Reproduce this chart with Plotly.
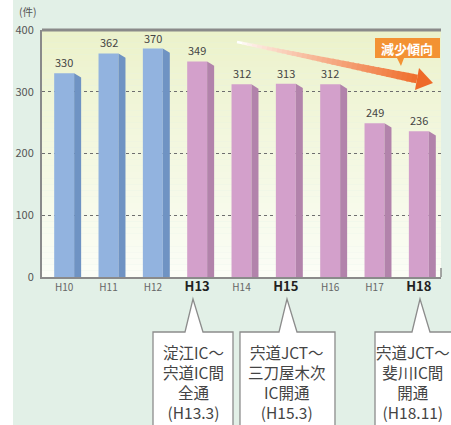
import plotly.graph_objects as go

# data
years = ["H10", "H11", "H12", "H13", "H14", "H15", "H16", "H17", "H18"]
counts = [330, 362, 370, 349, 312, 313, 312, 249, 236]
bold_years = ["H13", "H15", "H18"]
notes = {
    "H13": ["淀江IC～", "宍道IC間", "全通", "(H13.3)"],
    "H15": ["宍道JCT～", "三刀屋木次", "IC開通", "(H15.3)"],
    "H18": ["宍道JCT～", "斐川IC間", "開通", "(H18.11)"],
}

W, H = 451, 425
L, R, T, B = 42, 10, 30, 148
PW, PH = W - L - R, H - T - B
FONT = "Noto Sans CJK JP, Noto Sans, sans-serif"


def px(x, y):
    """pixel position -> paper coords"""
    return (x - L) / PW, (H - B - y) / PH


def path(points):
    s = ""
    for k, (x, y) in enumerate(points):
        a, b = px(x, y)
        s += ("M" if k == 0 else "L") + f"{a:.4f},{b:.4f} "
    return s + "Z"


def mix(c1, c2, t):
    return "#" + "".join(
        f"{round(int(c1[i:i + 2], 16) * (1 - t) + int(c2[i:i + 2], 16) * t):02x}"
        for i in (1, 3, 5))


idx = list(range(len(years)))
front = ["#92b3df" if i < 3 else "#d3a0cb" for i in idx]
side = ["#6f93c3" if i < 3 else "#b283ab" for i in idx]
bw = 0.45
depth = 7 / (PW / len(years))

fig = go.Figure()
fig.add_trace(go.Bar(x=idx, y=counts, width=bw, marker=dict(color=front, line_width=0),
                     hoverinfo="skip"))
for i, v in zip(idx, counts):
    x0 = i + bw / 2
    fig.add_trace(go.Scatter(
        x=[x0, x0 + depth, x0 + depth, x0, x0],
        y=[v, v - 7, 0, 0, v],
        fill="toself", fillcolor=side[i], mode="none", hoverinfo="skip"))

shapes = []
# plot-area gradient
n = 40
for k in range(n):
    shapes.append(dict(type="rect", xref="paper", yref="paper", x0=0, x1=1,
                       y0=k / n, y1=(k + 1) / n, layer="below", line_width=0,
                       fillcolor=mix("#fbfdf6", "#ecf2cb", k / (n - 1))))
# white strip at the far left
a0, _ = px(0, 0)
a1, _ = px(13, 0)
shapes.append(dict(type="rect", xref="paper", yref="paper", x0=a0, x1=a1, y0=-1, y1=2,
                   fillcolor="white", line_width=0, layer="below"))
# top border and right end tick
shapes.append(dict(type="line", xref="paper", yref="paper", x0=0, x1=1, y0=1, y1=1,
                   line=dict(color="#8a8a8a", width=3)))
shapes.append(dict(type="line", xref="paper", yref="paper", x0=1, x1=1, y0=0, y1=px(0, 268)[1],
                   line=dict(color="#8a8a8a", width=1.5)))

# gradient arrow
sx, sy, hx, hy, tx, ty = 237, 42, 417, 79, 433, 83
m = 36
for k in range(m):
    t0, t1 = k / m, (k + 1.3) / m
    t1 = min(t1, 1)
    x0, y0 = px(sx + (hx - sx) * t0, sy + (hy - sy) * t0)
    x1, y1 = px(sx + (hx - sx) * t1, sy + (hy - sy) * t1)
    shapes.append(dict(type="line", xref="paper", yref="paper", x0=x0, y0=y0, x1=x1, y1=y1,
                       line=dict(color=mix("#ffffff", "#ef6d2b", (k / m) ** 0.8),
                                 width=2.5 + 6.5 * k / m)))
shapes.append(dict(type="path", xref="paper", yref="paper", line_width=0, fillcolor="#ee6a28",
                   path=path([(hx + 2, hy - 11), (tx, ty), (hx - 2, hy + 11)])))

# 減少傾向 label box
shapes.append(dict(type="path", xref="paper", yref="paper", line_width=0, fillcolor="#f39233",
                   path=path([(375, 38), (440, 38), (440, 58), (404, 58), (401, 66),
                              (397, 58), (375, 58)])))

# callout boxes under the axis
boxes = {"H13": (153, 233, 193), "H15": (240, 335, 287), "H18": (375, 458, 420)}
for key, (bl, br, ax) in boxes.items():
    shapes.append(dict(type="path", xref="paper", yref="paper", fillcolor="white",
                       line=dict(color="#8c8c8c", width=1.3),
                       path=path([(bl, 440), (bl, 332), (ax - 8, 332), (ax, 299),
                                  (ax + 10, 332), (br, 332), (br, 440)])))

annotations = []
for i, v in zip(idx, counts):
    annotations.append(dict(x=i, y=v, text=str(v), showarrow=False, yanchor="bottom",
                            yshift=1, font=dict(size=11, color="#444", family=FONT)))


def note(x, y, text, **font):
    a, b = px(x, y)
    annotations.append(dict(x=a, y=b, xref="paper", yref="paper", text=text,
                            xanchor="center", yanchor="middle", showarrow=False,
                            align="center", font=dict(family=FONT, **font)))


note(28, 12, "(件)", size=10.5, color="#555")
note(407, 48, "<b>減少傾向</b>", size=13, color="white")
centers = {"H13": 193, "H15": 287, "H18": 413}
for key, lines in notes.items():
    note(centers[key], 382, "<br>".join(lines), size=15.5, color="#444")

ticktext = [f"<span style='font-size:13px;color:#222'><b>{y}</b></span>" if y in bold_years
            else y for y in years]

fig.update_layout(
    width=W, height=H,
    margin=dict(l=L, r=R, t=T, b=B),
    paper_bgcolor="#e2f0e7", plot_bgcolor="rgba(0,0,0,0)",
    showlegend=False, shapes=shapes, annotations=annotations,
    font=dict(family=FONT),
    xaxis=dict(range=[-0.5, len(years) - 0.5], tickvals=idx, ticktext=ticktext,
               showgrid=False, zeroline=False, showline=True, linecolor="#8a8a8a",
               linewidth=2, tickfont=dict(size=10, color="#666"), fixedrange=True),
    yaxis=dict(range=[0, 400], tickvals=[0, 100, 200, 300, 400], showgrid=True,
               gridcolor="#6e6e6e", griddash="dot", gridwidth=1, zeroline=False,
               showline=True, linecolor="#8a8a8a", linewidth=2, ticklabelstandoff=4,
               tickfont=dict(size=11, color="#555"), fixedrange=True),
)

# page body has an 8px default margin; drop it so the figure sits at 0,0
fig.write_html("out.html", config={"displayModeBar": False},
               post_script="document.body.style.margin='0';")
